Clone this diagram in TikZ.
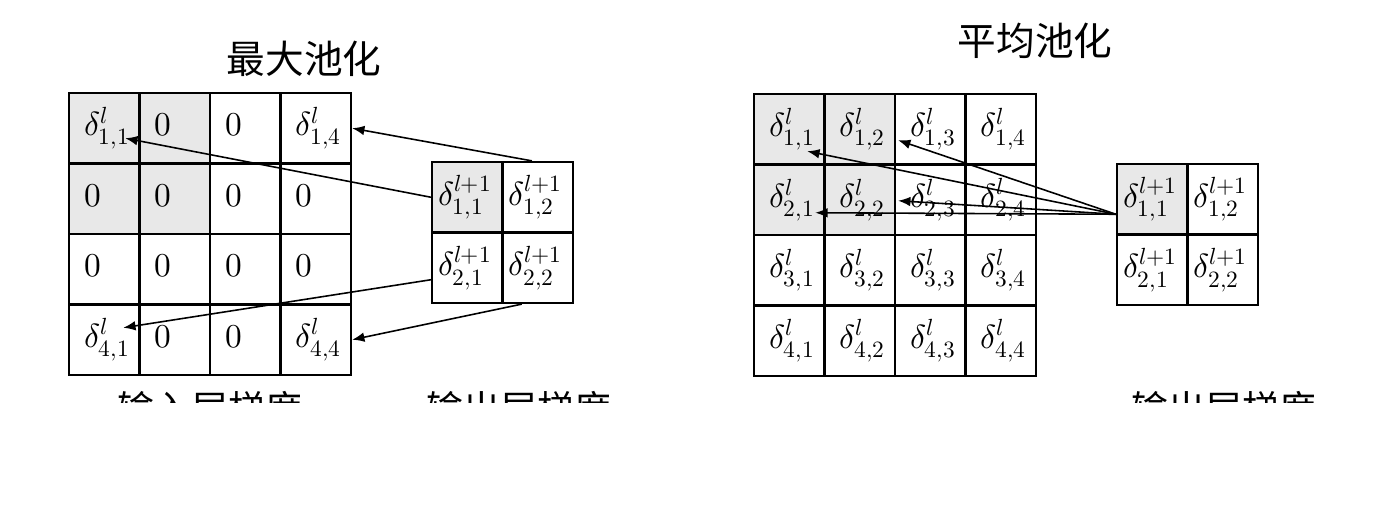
\documentclass[tikz,border=0pt]{standalone}
\usepackage{fontspec}
\usepackage{unicode-math}
\setmathfont{Latin Modern Math}
\newfontfamily\cjk{Noto Sans CJK SC}
\usepackage{tikz}
\usetikzlibrary{arrows.meta, calc, positioning, backgrounds}

\definecolor{cellgray}{HTML}{E8E8E8}
\newcommand{\dIn}[2]{$\delta^{l}_{#1,#2}$}
\newcommand{\dOut}[2]{$\delta^{l+1}_{#1,#2}$}
\newcommand{\zr}{$\vphantom{\delta^{l}_{1,1}}0$}

\tikzset{
    cell/.style={draw, line width=1.3pt, minimum width=1.41cm, minimum height=1.41cm,
        text width=0.81cm, inner xsep=0.3cm, inner ysep=0pt, align=left,
        font=\fontsize{19pt}{22pt}\selectfont},
    outcell/.style={cell, text width=1.17cm, inner xsep=0.12cm},
    grad/.style={-{Latex[length=7pt,width=5.5pt]}, line width=0.9pt},
    headtext/.style={font=\cjk\fontsize{22pt}{26pt}\selectfont, anchor=base, inner sep=0pt},
    gradlabel/.style={headtext, font=\cjk\fontsize{21pt}{25pt}\selectfont}
}

\begin{document}
\begin{tikzpicture}[x=0.02cm, y=-0.02cm]
    \useasboundingbox (0,0) rectangle (1400,526);

    % Max pooling: input gradient
    \foreach \i/\row in {1/{\dIn{1}{1},\zr,\zr,\dIn{1}{4}}, 2/{\zr,\zr,\zr,\zr},
                         3/{\zr,\zr,\zr,\zr}, 4/{\dIn{4}{1},\zr,\zr,\dIn{4}{4}}} {
        \foreach \t [count=\j] in \row
            \node[cell] (mx-\i-\j) at ({69+70.5*(\j-0.5)}, {93+70.5*(\i-0.5)}) {\t};
    }
    % Max pooling: output gradient
    \foreach \i in {1,2} \foreach \j in {1,2}
        \node[outcell] (mo-\i-\j) at ({432+70.5*(\j-0.5)}, {162+70.5*(\i-0.5)}) {\dOut{\i}{\j}};

    % Average pooling: input and output gradient
    \foreach \i in {1,...,4} \foreach \j in {1,...,4}
        \node[cell] (av-\i-\j) at ({754+70.5*(\j-0.5)}, {94+70.5*(\i-0.5)}) {\dIn{\i}{\j}};
    \foreach \i in {1,2} \foreach \j in {1,2}
        \node[outcell] (ao-\i-\j) at ({1117+70.5*(\j-0.5)}, {164+70.5*(\i-0.5)}) {\dOut{\i}{\j}};

    % Shaded pooling windows
    \begin{scope}[on background layer]
        \fill[cellgray] (mx-1-1.north west) rectangle (mx-2-2.south east);
        \fill[cellgray] (mo-1-1.north west) rectangle (mo-1-1.south east);
        \fill[cellgray] (av-1-1.north west) rectangle (av-2-2.south east);
        \fill[cellgray] (ao-1-1.north west) rectangle (ao-1-1.south east);
    \end{scope}

    % Max pooling arrows
    \draw[grad] ($(mo-1-2.north west)!0.42!(mo-1-2.north east)$) -- (mx-1-4.east);
    \draw[grad] (mo-1-1.west) -- ([shift={(21,10)}]mx-1-1.center);
    \draw[grad] ([shift={(0,12)}]mo-2-1.west) -- ([shift={(19,-12)}]mx-4-1.center);
    \draw[grad] ([shift={(-16,0)}]mo-2-2.south) -- (mx-4-4.east);

    % Average pooling arrows
    \coordinate (src) at ([shift={(0,15)}]ao-1-1.west);
    \foreach \tgt/\off in {av-1-2.east/{2,11}, av-1-1.center/{18,22},
                           av-2-2.east/{2,1}, av-2-1.center/{26,13}}
        \draw[grad] (src) -- ([shift={(\off)}]\tgt);

    % Titles
    \node[headtext] (maxtitle) at (304,74) {最大池化};
    \node[headtext] (avgtitle) at (1035,56) {平均池化};

    % Labels, cut off at the bottom
    \begin{scope}
        \clip (0,0) rectangle (1400,403);
        \node[gradlabel] (maxin) at (210,423) {输入层梯度};
        \node[gradlabel] (maxout) at (519,423) {输出层梯度};
        \node[gradlabel] (avgout) at (1224,423) {输出层梯度};
    \end{scope}
\end{tikzpicture}
\end{document}
